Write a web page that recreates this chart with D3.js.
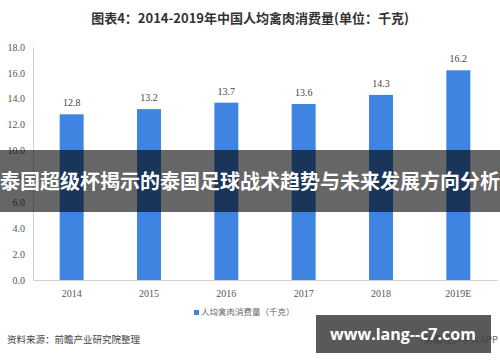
<!DOCTYPE html>
<html>
<head>
<meta charset="utf-8">
<script src="https://cdn.jsdelivr.net/npm/d3@7"></script>
<style>
  body { margin: 0; background: #fff; }
  svg { display: block; }
  .tick text { font-family: "Liberation Serif", "DejaVu Serif", serif; fill: #555; }
</style>
</head>
<body>
<div id="chart"></div>
<script>
const years = ['2014', '2015', '2016', '2017', '2018', '2019E'];
const values = [12.8, 13.2, 13.7, 13.6, 14.3, 16.2];
const yTicks = [0, 2, 4, 6, 8, 10, 12, 14, 16, 18];

const w = 500, h = 362;
const margin = { top: 47, right: 3, bottom: 82, left: 33 };

const svg = d3.select('#chart').append('svg')
  .attr('width', w)
  .attr('height', h);

// title
svg.append('text')
  .attr('x', 250)
  .attr('y', 23)
  .attr('text-anchor', 'middle')
  .style('font-family', '"Noto Sans CJK SC", sans-serif')
  .style('font-weight', 'bold')
  .style('font-size', '13px')
  .style('fill', '#333')
  .text('图表4：2014-2019年中国人均禽肉消费量(单位：千克)');

const x = d3.scaleBand()
  .domain(years)
  .range([margin.left, w - margin.right])
  .paddingInner(0.69)
  .paddingOuter(0.345);

const y = d3.scaleLinear()
  .domain([0, 18])
  .range([h - margin.bottom, margin.top]);

// bars
svg.selectAll('.bar')
  .data(values)
  .enter().append('rect')
  .attr('class', 'bar')
  .attr('x', (d, i) => x(years[i]))
  .attr('y', d => y(d))
  .attr('width', x.bandwidth())
  .attr('height', d => y(0) - y(d))
  .attr('fill', '#3f84e0');

// value labels
svg.selectAll('.val')
  .data(values)
  .enter().append('text')
  .attr('class', 'val')
  .attr('x', (d, i) => x(years[i]) + x.bandwidth() / 2)
  .attr('y', d => y(d) - 8)
  .attr('text-anchor', 'middle')
  .style('font-family', '"Liberation Serif", serif')
  .style('font-size', '10px')
  .style('fill', '#444')
  .text(d => d.toFixed(1));

// y axis
const yAxis = svg.append('g')
  .attr('transform', `translate(${margin.left},0)`)
  .call(d3.axisLeft(y).tickValues(yTicks).tickFormat(d3.format('.1f')).tickSize(0).tickPadding(8));
yAxis.select('.domain').attr('stroke', '#d0d0d0');
yAxis.selectAll('.tick text').style('font-size', '10px');

// x axis
const xAxis = svg.append('g')
  .attr('transform', `translate(0,${y(0)})`)
  .call(d3.axisBottom(x).tickSize(0).tickPadding(10).tickSizeOuter(0));
xAxis.select('.domain').attr('stroke', '#d0d0d0');
xAxis.selectAll('.tick text').style('font-size', '10px');

// legend
const legend = svg.append('g').attr('transform', 'translate(194,315)');
legend.append('rect')
  .attr('x', 0).attr('y', -5)
  .attr('width', 5).attr('height', 5)
  .attr('fill', '#3f84e0');
legend.append('text')
  .attr('x', 7).attr('y', 0)
  .style('font-family', '"Noto Sans CJK SC", sans-serif')
  .style('font-size', '8.5px')
  .style('fill', '#666')
  .text('人均禽肉消费量（千克）');

// source
svg.append('text')
  .attr('x', 7).attr('y', 343)
  .style('font-family', '"Noto Sans CJK SC", sans-serif')
  .style('font-size', '9.5px')
  .style('fill', '#444')
  .text('资料来源：前瞻产业研究院整理');

svg.append('text')
  .attr('x', 498).attr('y', 343)
  .attr('text-anchor', 'end')
  .style('font-family', '"Noto Sans CJK SC", sans-serif')
  .style('font-size', '9.5px')
  .style('fill', '#666')
  .text('前瞻经济学人APP');

// overlay banner
svg.append('rect')
  .attr('x', 0).attr('y', 150)
  .attr('width', w).attr('height', 62)
  .attr('fill', 'rgba(0,0,0,0.6)');
svg.append('text')
  .attr('x', 250).attr('y', 189)
  .attr('text-anchor', 'middle')
  .style('font-family', '"Noto Sans CJK SC", sans-serif')
  .style('font-weight', 'bold')
  .style('font-size', '20px')
  .style('fill', '#fff')
  .text('泰国超级杯揭示的泰国足球战术趋势与未来发展方向分析');

// url box
svg.append('rect')
  .attr('x', 316).attr('y', 315)
  .attr('width', 175).attr('height', 38)
  .attr('fill', 'rgba(60,60,60,0.85)');
svg.append('text')
  .attr('x', 403).attr('y', 340)
  .attr('text-anchor', 'middle')
  .style('font-family', '"Open Sans", "DejaVu Sans", sans-serif')
  .style('font-weight', 'bold')
  .style('font-size', '16px')
  .style('fill', '#fff')
  .text('www.lang--c7.com');
</script>
</body>
</html>
